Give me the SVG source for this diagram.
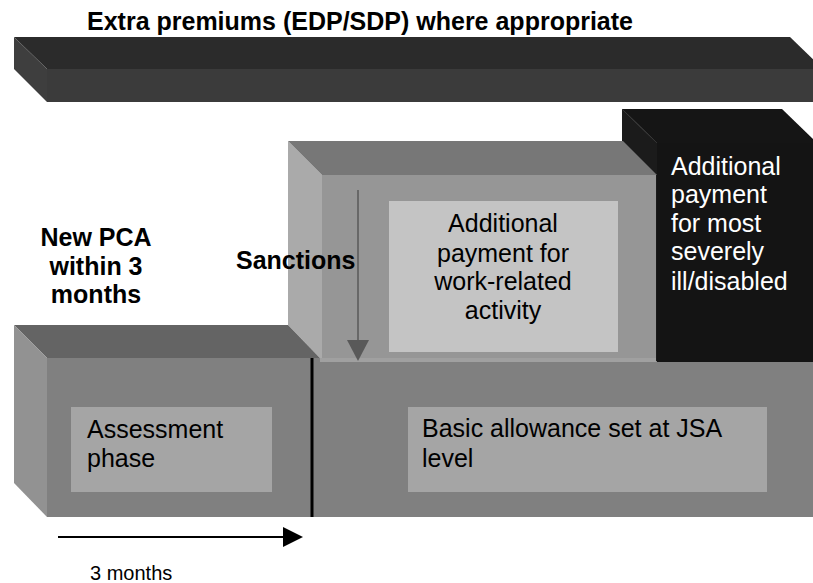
<svg xmlns="http://www.w3.org/2000/svg" width="813" height="583" viewBox="0 0 813 583">
<defs>
<style>
.t{font-family:"Liberation Sans",Arial,sans-serif;font-size:25px;fill:#000}
.b{font-weight:bold}
.w{fill:#fff}
.c{text-anchor:middle}
</style>
<marker id="ah" viewBox="0 0 10 10" refX="10" refY="5" markerWidth="10" markerHeight="10" markerUnits="userSpaceOnUse" orient="auto"><path d="M0,0 L10,5 L0,10 Z" fill="#595959"/></marker>
</defs>
<rect width="813" height="583" fill="#fff"/>
<g id="title"><text class="t b" x="87" y="30">Extra premiums (EDP/SDP) where appropriate</text></g>
<g id="extra-premiums-bar">
<polygon points="14,37 790,37 823,69 47,69" fill="#2b2b2b"/>
<rect x="47" y="69" width="780" height="33" fill="#3b3b3b"/>
<polygon points="14,37 47,69 47,102 14,69" fill="#3e3e3e"/>
</g>
<g id="severe-payment">
<polygon points="622,109 782,109 817,143 657,143" fill="#151515"/>
<polygon points="622,109 657,143 657,362 622,328" fill="#1b1b1b"/>
<rect x="657" y="143" width="160" height="219" fill="#141414"/>
<line x1="622" y1="109" x2="657" y2="143" stroke="#333" stroke-width="1"/>
<text class="t w" x="671" y="175">Additional</text>
<text class="t w" x="671" y="203">payment</text>
<text class="t w" x="671" y="232">for most</text>
<text class="t w" x="671" y="260">severely</text>
<text class="t w" x="671" y="290">ill/disabled</text>
</g>
<g id="work-related-payment">
<polygon points="288,141 322,175 322,360 288,325" fill="#aaaaaa"/>
<polygon points="288,141 623,141 657,175 322,175" fill="#777777"/>
<rect x="322" y="175" width="334" height="187" fill="#969696"/>
<rect x="389" y="201" width="229" height="151" fill="#c4c4c4"/>
<text class="t c" x="503" y="232">Additional</text>
<text class="t c" x="503" y="262">payment for</text>
<text class="t c" x="503" y="290">work-related</text>
<text class="t c" x="503" y="319">activity</text>
</g>
<g id="base-allowance">
<polygon points="14,325 288,325 320,358 47,358" fill="#646464"/>
<polygon points="14,325 47,358 47,517 14,483" fill="#929292"/>
<rect x="47" y="362" width="770" height="155" fill="#808080"/>
<rect x="47" y="358" width="273" height="4" fill="#808080"/>
<rect x="320" y="358" width="336" height="4" fill="#a0a0a0"/>
</g>
<g id="assessment-phase">
<rect x="71" y="407" width="201" height="85" fill="#a5a5a5"/>
<text class="t" x="87" y="438">Assessment</text>
<text class="t" x="87" y="467">phase</text>
</g>
<g id="basic-allowance">
<rect x="408" y="407" width="359" height="85" fill="#a5a5a5"/>
<text class="t" x="422" y="437">Basic allowance set at JSA</text>
<text class="t" x="422" y="467">level</text>
</g>
<g id="new-pca">
<text class="t b c" x="96" y="246">New PCA</text>
<text class="t b c" x="96" y="275">within 3</text>
<text class="t b c" x="96" y="303">months</text>
</g>
<g id="sanctions"><text class="t b" x="236" y="269">Sanctions</text></g>
<g id="connectors">
<line x1="312" y1="358" x2="312" y2="517" stroke="#000" stroke-width="3"/>
<line x1="358" y1="190" x2="358" y2="341" stroke="#595959" stroke-width="1.5"/>
<polygon points="347,340 369,340 358,361" fill="#595959"/>
<line x1="58" y1="537" x2="285" y2="537" stroke="#000" stroke-width="2"/>
<polygon points="283,527 303,537 283,547" fill="#000"/>
</g>
<g id="duration"><text class="t" style="font-size:20px" x="90" y="580">3 months</text></g>
</svg>
